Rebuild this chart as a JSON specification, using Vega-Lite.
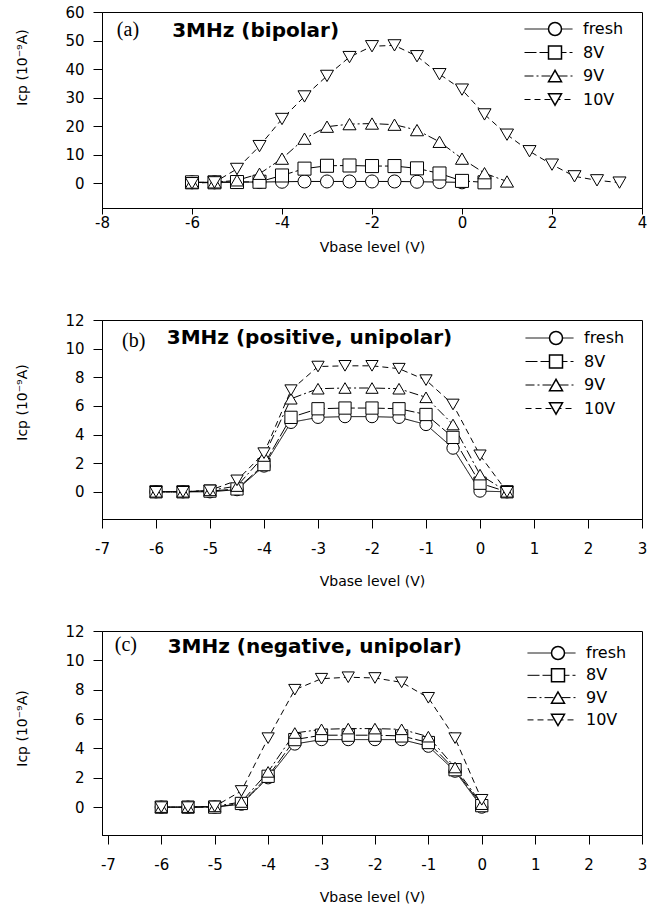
{
  "$schema": "https://vega.github.io/schema/vega-lite/v6.json",
  "padding": {"left": 14, "top": 4, "right": 2, "bottom": 2},
  "bounds": "flush",
  "spacing": 112,
  "resolve": {"scale": {"shape": "independent", "strokeDash": "independent"}, "legend": {"shape": "independent", "strokeDash": "independent"}},
  "datasets": {
    "pts": [
      {"panel": "a", "series": "fresh", "v": -6, "i": 0.3}, {"panel": "a", "series": "fresh", "v": -5.5, "i": 0.3}, {"panel": "a", "series": "fresh", "v": -5, "i": 0.4}, {"panel": "a", "series": "fresh", "v": -4.5, "i": 0.4}, {"panel": "a", "series": "fresh", "v": -4, "i": 0.5}, {"panel": "a", "series": "fresh", "v": -3.5, "i": 0.6}, {"panel": "a", "series": "fresh", "v": -3, "i": 0.6}, {"panel": "a", "series": "fresh", "v": -2.5, "i": 0.6}, {"panel": "a", "series": "fresh", "v": -2, "i": 0.6}, {"panel": "a", "series": "fresh", "v": -1.5, "i": 0.6}, {"panel": "a", "series": "fresh", "v": -1, "i": 0.5}, {"panel": "a", "series": "fresh", "v": -0.5, "i": 0.4}, {"panel": "a", "series": "fresh", "v": 0, "i": 0.3},
      {"panel": "a", "series": "8V", "v": -6, "i": 0.3}, {"panel": "a", "series": "8V", "v": -5.5, "i": 0.3}, {"panel": "a", "series": "8V", "v": -5, "i": 0.4}, {"panel": "a", "series": "8V", "v": -4.5, "i": 0.5}, {"panel": "a", "series": "8V", "v": -4, "i": 2.7}, {"panel": "a", "series": "8V", "v": -3.5, "i": 5.1}, {"panel": "a", "series": "8V", "v": -3, "i": 6.1}, {"panel": "a", "series": "8V", "v": -2.5, "i": 6.2}, {"panel": "a", "series": "8V", "v": -2, "i": 6.0}, {"panel": "a", "series": "8V", "v": -1.5, "i": 6.0}, {"panel": "a", "series": "8V", "v": -1, "i": 5.2}, {"panel": "a", "series": "8V", "v": -0.5, "i": 3.4}, {"panel": "a", "series": "8V", "v": 0, "i": 0.8}, {"panel": "a", "series": "8V", "v": 0.5, "i": 0.3},
      {"panel": "a", "series": "9V", "v": -6, "i": 0.2}, {"panel": "a", "series": "9V", "v": -5.5, "i": 0.3}, {"panel": "a", "series": "9V", "v": -5, "i": 1.0}, {"panel": "a", "series": "9V", "v": -4.5, "i": 3.3}, {"panel": "a", "series": "9V", "v": -4, "i": 8.6}, {"panel": "a", "series": "9V", "v": -3.5, "i": 15.6}, {"panel": "a", "series": "9V", "v": -3, "i": 19.8}, {"panel": "a", "series": "9V", "v": -2.5, "i": 20.7}, {"panel": "a", "series": "9V", "v": -2, "i": 20.9}, {"panel": "a", "series": "9V", "v": -1.5, "i": 20.5}, {"panel": "a", "series": "9V", "v": -1, "i": 18.6}, {"panel": "a", "series": "9V", "v": -0.5, "i": 14.5}, {"panel": "a", "series": "9V", "v": 0, "i": 8.6}, {"panel": "a", "series": "9V", "v": 0.5, "i": 3.5}, {"panel": "a", "series": "9V", "v": 1, "i": 0.6},
      {"panel": "a", "series": "10V", "v": -6, "i": 0.0}, {"panel": "a", "series": "10V", "v": -5.5, "i": 0.3}, {"panel": "a", "series": "10V", "v": -5, "i": 5.0}, {"panel": "a", "series": "10V", "v": -4.5, "i": 13.0}, {"panel": "a", "series": "10V", "v": -4, "i": 22.5}, {"panel": "a", "series": "10V", "v": -3.5, "i": 30.4}, {"panel": "a", "series": "10V", "v": -3, "i": 37.6}, {"panel": "a", "series": "10V", "v": -2.5, "i": 44.2}, {"panel": "a", "series": "10V", "v": -2, "i": 48.0}, {"panel": "a", "series": "10V", "v": -1.5, "i": 48.3}, {"panel": "a", "series": "10V", "v": -1, "i": 44.5}, {"panel": "a", "series": "10V", "v": -0.5, "i": 38.2}, {"panel": "a", "series": "10V", "v": 0, "i": 32.8}, {"panel": "a", "series": "10V", "v": 0.5, "i": 24.1}, {"panel": "a", "series": "10V", "v": 1, "i": 17.0}, {"panel": "a", "series": "10V", "v": 1.5, "i": 11.2}, {"panel": "a", "series": "10V", "v": 2, "i": 6.5}, {"panel": "a", "series": "10V", "v": 2.5, "i": 2.4}, {"panel": "a", "series": "10V", "v": 3, "i": 1.0}, {"panel": "a", "series": "10V", "v": 3.5, "i": 0.2},

      {"panel": "b", "series": "fresh", "v": -6, "i": 0}, {"panel": "b", "series": "fresh", "v": -5.5, "i": 0}, {"panel": "b", "series": "fresh", "v": -5, "i": 0}, {"panel": "b", "series": "fresh", "v": -4.5, "i": 0.15}, {"panel": "b", "series": "fresh", "v": -4, "i": 1.8}, {"panel": "b", "series": "fresh", "v": -3.5, "i": 4.85}, {"panel": "b", "series": "fresh", "v": -3, "i": 5.2}, {"panel": "b", "series": "fresh", "v": -2.5, "i": 5.25}, {"panel": "b", "series": "fresh", "v": -2, "i": 5.25}, {"panel": "b", "series": "fresh", "v": -1.5, "i": 5.2}, {"panel": "b", "series": "fresh", "v": -1, "i": 4.7}, {"panel": "b", "series": "fresh", "v": -0.5, "i": 3.05}, {"panel": "b", "series": "fresh", "v": 0, "i": 0.05}, {"panel": "b", "series": "fresh", "v": 0.5, "i": 0},
      {"panel": "b", "series": "8V", "v": -6, "i": 0}, {"panel": "b", "series": "8V", "v": -5.5, "i": 0}, {"panel": "b", "series": "8V", "v": -5, "i": 0.05}, {"panel": "b", "series": "8V", "v": -4.5, "i": 0.2}, {"panel": "b", "series": "8V", "v": -4, "i": 1.9}, {"panel": "b", "series": "8V", "v": -3.5, "i": 5.2}, {"panel": "b", "series": "8V", "v": -3, "i": 5.8}, {"panel": "b", "series": "8V", "v": -2.5, "i": 5.85}, {"panel": "b", "series": "8V", "v": -2, "i": 5.85}, {"panel": "b", "series": "8V", "v": -1.5, "i": 5.8}, {"panel": "b", "series": "8V", "v": -1, "i": 5.4}, {"panel": "b", "series": "8V", "v": -0.5, "i": 3.8}, {"panel": "b", "series": "8V", "v": 0, "i": 0.6}, {"panel": "b", "series": "8V", "v": 0.5, "i": 0},
      {"panel": "b", "series": "9V", "v": -6, "i": 0}, {"panel": "b", "series": "9V", "v": -5.5, "i": 0}, {"panel": "b", "series": "9V", "v": -5, "i": 0.1}, {"panel": "b", "series": "9V", "v": -4.5, "i": 0.4}, {"panel": "b", "series": "9V", "v": -4, "i": 2.5}, {"panel": "b", "series": "9V", "v": -3.5, "i": 6.5}, {"panel": "b", "series": "9V", "v": -3, "i": 7.2}, {"panel": "b", "series": "9V", "v": -2.5, "i": 7.25}, {"panel": "b", "series": "9V", "v": -2, "i": 7.25}, {"panel": "b", "series": "9V", "v": -1.5, "i": 7.2}, {"panel": "b", "series": "9V", "v": -1, "i": 6.6}, {"panel": "b", "series": "9V", "v": -0.5, "i": 4.7}, {"panel": "b", "series": "9V", "v": 0, "i": 1.2}, {"panel": "b", "series": "9V", "v": 0.5, "i": 0},
      {"panel": "b", "series": "10V", "v": -6, "i": 0}, {"panel": "b", "series": "10V", "v": -5.5, "i": 0}, {"panel": "b", "series": "10V", "v": -5, "i": 0.1}, {"panel": "b", "series": "10V", "v": -4.5, "i": 0.8}, {"panel": "b", "series": "10V", "v": -4, "i": 2.7}, {"panel": "b", "series": "10V", "v": -3.5, "i": 7.1}, {"panel": "b", "series": "10V", "v": -3, "i": 8.75}, {"panel": "b", "series": "10V", "v": -2.5, "i": 8.8}, {"panel": "b", "series": "10V", "v": -2, "i": 8.8}, {"panel": "b", "series": "10V", "v": -1.5, "i": 8.6}, {"panel": "b", "series": "10V", "v": -1, "i": 7.8}, {"panel": "b", "series": "10V", "v": -0.5, "i": 6.1}, {"panel": "b", "series": "10V", "v": 0, "i": 2.55}, {"panel": "b", "series": "10V", "v": 0.5, "i": 0},

      {"panel": "c", "series": "fresh", "v": -6, "i": 0}, {"panel": "c", "series": "fresh", "v": -5.5, "i": 0}, {"panel": "c", "series": "fresh", "v": -5, "i": 0}, {"panel": "c", "series": "fresh", "v": -4.5, "i": 0.2}, {"panel": "c", "series": "fresh", "v": -4, "i": 2.0}, {"panel": "c", "series": "fresh", "v": -3.5, "i": 4.3}, {"panel": "c", "series": "fresh", "v": -3, "i": 4.6}, {"panel": "c", "series": "fresh", "v": -2.5, "i": 4.6}, {"panel": "c", "series": "fresh", "v": -2, "i": 4.6}, {"panel": "c", "series": "fresh", "v": -1.5, "i": 4.6}, {"panel": "c", "series": "fresh", "v": -1, "i": 4.15}, {"panel": "c", "series": "fresh", "v": -0.5, "i": 2.45}, {"panel": "c", "series": "fresh", "v": 0, "i": 0},
      {"panel": "c", "series": "8V", "v": -6, "i": 0}, {"panel": "c", "series": "8V", "v": -5.5, "i": 0}, {"panel": "c", "series": "8V", "v": -5, "i": 0}, {"panel": "c", "series": "8V", "v": -4.5, "i": 0.25}, {"panel": "c", "series": "8V", "v": -4, "i": 2.1}, {"panel": "c", "series": "8V", "v": -3.5, "i": 4.6}, {"panel": "c", "series": "8V", "v": -3, "i": 4.9}, {"panel": "c", "series": "8V", "v": -2.5, "i": 4.9}, {"panel": "c", "series": "8V", "v": -2, "i": 4.9}, {"panel": "c", "series": "8V", "v": -1.5, "i": 4.85}, {"panel": "c", "series": "8V", "v": -1, "i": 4.4}, {"panel": "c", "series": "8V", "v": -0.5, "i": 2.55}, {"panel": "c", "series": "8V", "v": 0, "i": 0.1},
      {"panel": "c", "series": "9V", "v": -6, "i": 0}, {"panel": "c", "series": "9V", "v": -5.5, "i": 0}, {"panel": "c", "series": "9V", "v": -5, "i": 0.05}, {"panel": "c", "series": "9V", "v": -4.5, "i": 0.35}, {"panel": "c", "series": "9V", "v": -4, "i": 2.4}, {"panel": "c", "series": "9V", "v": -3.5, "i": 5.05}, {"panel": "c", "series": "9V", "v": -3, "i": 5.3}, {"panel": "c", "series": "9V", "v": -2.5, "i": 5.35}, {"panel": "c", "series": "9V", "v": -2, "i": 5.35}, {"panel": "c", "series": "9V", "v": -1.5, "i": 5.3}, {"panel": "c", "series": "9V", "v": -1, "i": 4.8}, {"panel": "c", "series": "9V", "v": -0.5, "i": 2.7}, {"panel": "c", "series": "9V", "v": 0, "i": 0.2},
      {"panel": "c", "series": "10V", "v": -6, "i": 0}, {"panel": "c", "series": "10V", "v": -5.5, "i": 0}, {"panel": "c", "series": "10V", "v": -5, "i": 0.05}, {"panel": "c", "series": "10V", "v": -4.5, "i": 1.1}, {"panel": "c", "series": "10V", "v": -4, "i": 4.7}, {"panel": "c", "series": "10V", "v": -3.5, "i": 8.0}, {"panel": "c", "series": "10V", "v": -3, "i": 8.75}, {"panel": "c", "series": "10V", "v": -2.5, "i": 8.85}, {"panel": "c", "series": "10V", "v": -2, "i": 8.8}, {"panel": "c", "series": "10V", "v": -1.5, "i": 8.5}, {"panel": "c", "series": "10V", "v": -1, "i": 7.45}, {"panel": "c", "series": "10V", "v": -0.5, "i": 4.7}, {"panel": "c", "series": "10V", "v": 0, "i": 0.5}
    ]
  },
  "vconcat": [
    {
      "width": 540,
      "height": 196,
      "layer": [
        {
          "data": {"name": "pts"},
          "transform": [{"filter": "datum.panel === 'a'"}],
          "mark": {"type": "line", "color": "black", "strokeWidth": 1},
          "encoding": {
            "x": {"field": "v", "type": "quantitative", "scale": {"domain": [-8, 4], "nice": false, "zero": false},
              "axis": {"values": [-8, -6, -4, -2, 0, 2, 4], "title": "Vbase level (V)", "labelExpr": "'' + datum.value", "tickSize": 6, "labelPadding": 1, "titlePadding": 10, "labelOverlap": false}},
            "y": {"field": "i", "type": "quantitative", "scale": {"domain": [-8.7, 60], "nice": false, "zero": false},
              "axis": {"values": [0, 10, 20, 30, 40, 50, 60], "title": "Icp (10⁻⁹A)", "titleX": -73, "titleY": 55, "labelOverlap": false}},
            "strokeDash": {"field": "series", "type": "nominal",
              "scale": {"domain": ["fresh", "8V", "9V", "10V"], "range": [[1, 0], [12, 3], [9, 3, 2, 3], [6, 4]]},
              "legend": {"orient": "none", "legendX": 422, "legendY": 9, "title": null, "padding": 0, "zindex": 1,
                "symbolType": "stroke", "symbolSize": 2304, "symbolStrokeColor": "black", "symbolStrokeWidth": 1,
                "labelFont": "DejaVu Sans", "labelFontSize": 16, "labelColor": "black", "labelOffset": 10,
                "clipHeight": 16, "rowPadding": 7.5}}
          }
        },
        {
          "data": {"name": "pts"},
          "transform": [{"filter": "datum.panel === 'a'"}],
          "mark": {"type": "point", "filled": true, "fill": "white", "stroke": "black", "strokeWidth": 1, "size": 170, "opacity": 1},
          "encoding": {
            "x": {"field": "v", "type": "quantitative", "scale": {"domain": [-8, 4], "nice": false, "zero": false},
              "axis": {"values": [-8, -6, -4, -2, 0, 2, 4], "title": "Vbase level (V)", "labelExpr": "'' + datum.value", "tickSize": 6, "labelPadding": 1, "titlePadding": 10, "labelOverlap": false}},
            "y": {"field": "i", "type": "quantitative", "scale": {"domain": [-8.7, 60], "nice": false, "zero": false},
              "axis": {"values": [0, 10, 20, 30, 40, 50, 60], "title": "Icp (10⁻⁹A)", "titleX": -73, "titleY": 55, "labelOverlap": false}},
            "shape": {"field": "series", "type": "nominal",
              "scale": {"range": ["triangle-down", "square", "triangle-up", "circle"]},
              "legend": {"orient": "none", "legendX": 445, "legendY": 9, "title": null, "padding": 0, "zindex": 2,
                "values": ["fresh", "8V", "9V", "10V"], "symbolSize": 169, "labelExpr": "''",
                "labelFontSize": 16, "clipHeight": 16, "rowPadding": 7.5}
            }
          }
        },
        {
          "data": {"values": [{}]},
          "mark": {"type": "text", "font": "Liberation Serif", "fontSize": 20, "align": "left", "baseline": "middle", "color": "black"},
          "encoding": {
            "x": {"datum": -7.67, "type": "quantitative", "axis": {"values": [-8, -6, -4, -2, 0, 2, 4], "title": "Vbase level (V)", "labelExpr": "'' + datum.value", "tickSize": 6, "labelPadding": 1, "titlePadding": 10, "labelOverlap": false}},
            "y": {"datum": 53.8, "type": "quantitative", "axis": {"values": [0, 10, 20, 30, 40, 50, 60], "title": "Icp (10⁻⁹A)", "titleX": -73, "titleY": 55, "labelOverlap": false}},
            "text": {"value": "(a)"}}
        },
        {
          "data": {"values": [{}]},
          "mark": {"type": "text", "font": "DejaVu Sans", "fontWeight": "bold", "fontSize": 20, "align": "left", "baseline": "middle", "color": "black"},
          "encoding": {
            "x": {"datum": -6.44, "type": "quantitative", "axis": {"values": [-8, -6, -4, -2, 0, 2, 4], "title": "Vbase level (V)", "labelExpr": "'' + datum.value", "tickSize": 6, "labelPadding": 1, "titlePadding": 10, "labelOverlap": false}},
            "y": {"datum": 53.4, "type": "quantitative", "axis": {"values": [0, 10, 20, 30, 40, 50, 60], "title": "Icp (10⁻⁹A)", "titleX": -73, "titleY": 55, "labelOverlap": false}},
            "text": {"value": "3MHz (bipolar)"}}
        }
      ]
    },
    {
      "width": 540,
      "height": 199,
      "layer": [
        {
          "data": {"name": "pts"},
          "transform": [{"filter": "datum.panel === 'b'"}],
          "mark": {"type": "line", "color": "black", "strokeWidth": 1},
          "encoding": {
            "x": {"field": "v", "type": "quantitative", "scale": {"domain": [-7, 3], "nice": false, "zero": false},
              "axis": {"values": [-7, -6, -5, -4, -3, -2, -1, 0, 1, 2, 3], "title": "Vbase level (V)", "labelExpr": "'' + datum.value", "tickSize": 9, "labelPadding": 13, "titlePadding": 18, "labelOverlap": false}},
            "y": {"field": "i", "type": "quantitative", "scale": {"domain": [-1.9, 12], "nice": false, "zero": false},
              "axis": {"values": [0, 2, 4, 6, 8, 10, 12], "title": "Icp (10⁻⁹A)", "titleX": -73, "titleY": 82, "labelOverlap": false}},
            "strokeDash": {"field": "series", "type": "nominal",
              "scale": {"domain": ["fresh", "8V", "9V", "10V"], "range": [[1, 0], [12, 3], [9, 3, 2, 3], [6, 4]]},
              "legend": {"orient": "none", "legendX": 423, "legendY": 10, "title": null, "padding": 0, "zindex": 1,
                "symbolType": "stroke", "symbolSize": 2304, "symbolStrokeColor": "black", "symbolStrokeWidth": 1,
                "labelFont": "DejaVu Sans", "labelFontSize": 16, "labelColor": "black", "labelOffset": 10,
                "clipHeight": 16, "rowPadding": 7.5}}
          }
        },
        {
          "data": {"name": "pts"},
          "transform": [{"filter": "datum.panel === 'b'"}],
          "mark": {"type": "point", "filled": true, "fill": "white", "stroke": "black", "strokeWidth": 1, "size": 150, "opacity": 1},
          "encoding": {
            "x": {"field": "v", "type": "quantitative", "scale": {"domain": [-7, 3], "nice": false, "zero": false},
              "axis": {"values": [-7, -6, -5, -4, -3, -2, -1, 0, 1, 2, 3], "title": "Vbase level (V)", "labelExpr": "'' + datum.value", "tickSize": 9, "labelPadding": 13, "titlePadding": 18, "labelOverlap": false}},
            "y": {"field": "i", "type": "quantitative", "scale": {"domain": [-1.9, 12], "nice": false, "zero": false},
              "axis": {"values": [0, 2, 4, 6, 8, 10, 12], "title": "Icp (10⁻⁹A)", "titleX": -73, "titleY": 82, "labelOverlap": false}},
            "shape": {"field": "series", "type": "nominal",
              "scale": {"range": ["triangle-down", "square", "triangle-up", "circle"]},
              "legend": {"orient": "none", "legendX": 446, "legendY": 10, "title": null, "padding": 0, "zindex": 2,
                "values": ["fresh", "8V", "9V", "10V"], "symbolSize": 169, "labelExpr": "''",
                "labelFontSize": 16, "clipHeight": 16, "rowPadding": 7.5}
            }
          }
        },
        {
          "data": {"values": [{}]},
          "mark": {"type": "text", "font": "Liberation Serif", "fontSize": 20, "align": "left", "baseline": "middle", "color": "black"},
          "encoding": {
            "x": {"datum": -6.63, "type": "quantitative", "axis": {"values": [-7, -6, -5, -4, -3, -2, -1, 0, 1, 2, 3], "title": "Vbase level (V)", "labelExpr": "'' + datum.value", "tickSize": 9, "labelPadding": 13, "titlePadding": 18, "labelOverlap": false}},
            "y": {"datum": 10.55, "type": "quantitative", "axis": {"values": [0, 2, 4, 6, 8, 10, 12], "title": "Icp (10⁻⁹A)", "titleX": -73, "titleY": 82, "labelOverlap": false}},
            "text": {"value": "(b)"}}
        },
        {
          "data": {"values": [{}]},
          "mark": {"type": "text", "font": "DejaVu Sans", "fontWeight": "bold", "fontSize": 20, "align": "left", "baseline": "middle", "color": "black"},
          "encoding": {
            "x": {"datum": -5.8, "type": "quantitative", "axis": {"values": [-7, -6, -5, -4, -3, -2, -1, 0, 1, 2, 3], "title": "Vbase level (V)", "labelExpr": "'' + datum.value", "tickSize": 9, "labelPadding": 13, "titlePadding": 18, "labelOverlap": false}},
            "y": {"datum": 10.75, "type": "quantitative", "axis": {"values": [0, 2, 4, 6, 8, 10, 12], "title": "Icp (10⁻⁹A)", "titleX": -73, "titleY": 82, "labelOverlap": false}},
            "text": {"value": "3MHz (positive, unipolar)"}}
        }
      ]
    },
    {
      "width": 540,
      "height": 204,
      "layer": [
        {
          "data": {"name": "pts"},
          "transform": [{"filter": "datum.panel === 'c'"}],
          "mark": {"type": "line", "color": "black", "strokeWidth": 1},
          "encoding": {
            "x": {"field": "v", "type": "quantitative", "scale": {"domain": [-7.11, 3], "nice": false, "zero": false},
              "axis": {"values": [-7, -6, -5, -4, -3, -2, -1, 0, 1, 2, 3], "title": "Vbase level (V)", "labelExpr": "'' + datum.value", "tickSize": 9, "labelPadding": 13, "titlePadding": 18, "labelOverlap": false}},
            "y": {"field": "i", "type": "quantitative", "scale": {"domain": [-1.9, 12], "nice": false, "zero": false},
              "axis": {"values": [0, 2, 4, 6, 8, 10, 12], "title": "Icp (10⁻⁹A)", "titleX": -73, "titleY": 97, "labelOverlap": false}},
            "strokeDash": {"field": "series", "type": "nominal",
              "scale": {"domain": ["fresh", "8V", "9V", "10V"], "range": [[1, 0], [12, 3], [9, 3, 2, 3], [6, 4]]},
              "legend": {"orient": "none", "legendX": 425, "legendY": 14, "title": null, "padding": 0, "zindex": 1,
                "symbolType": "stroke", "symbolSize": 2304, "symbolStrokeColor": "black", "symbolStrokeWidth": 1,
                "labelFont": "DejaVu Sans", "labelFontSize": 16, "labelColor": "black", "labelOffset": 10,
                "clipHeight": 16, "rowPadding": 6.3}}
          }
        },
        {
          "data": {"name": "pts"},
          "transform": [{"filter": "datum.panel === 'c'"}],
          "mark": {"type": "point", "filled": true, "fill": "white", "stroke": "black", "strokeWidth": 1, "size": 150, "opacity": 1},
          "encoding": {
            "x": {"field": "v", "type": "quantitative", "scale": {"domain": [-7.11, 3], "nice": false, "zero": false},
              "axis": {"values": [-7, -6, -5, -4, -3, -2, -1, 0, 1, 2, 3], "title": "Vbase level (V)", "labelExpr": "'' + datum.value", "tickSize": 9, "labelPadding": 13, "titlePadding": 18, "labelOverlap": false}},
            "y": {"field": "i", "type": "quantitative", "scale": {"domain": [-1.9, 12], "nice": false, "zero": false},
              "axis": {"values": [0, 2, 4, 6, 8, 10, 12], "title": "Icp (10⁻⁹A)", "titleX": -73, "titleY": 97, "labelOverlap": false}},
            "shape": {"field": "series", "type": "nominal",
              "scale": {"range": ["triangle-down", "square", "triangle-up", "circle"]},
              "legend": {"orient": "none", "legendX": 448, "legendY": 14, "title": null, "padding": 0, "zindex": 2,
                "values": ["fresh", "8V", "9V", "10V"], "symbolSize": 169, "labelExpr": "''",
                "labelFontSize": 16, "clipHeight": 16, "rowPadding": 6.3}
            }
          }
        },
        {
          "data": {"values": [{}]},
          "mark": {"type": "text", "font": "Liberation Serif", "fontSize": 20, "align": "left", "baseline": "middle", "color": "black"},
          "encoding": {
            "x": {"datum": -6.87, "type": "quantitative", "axis": {"values": [-7, -6, -5, -4, -3, -2, -1, 0, 1, 2, 3], "title": "Vbase level (V)", "labelExpr": "'' + datum.value", "tickSize": 9, "labelPadding": 13, "titlePadding": 18, "labelOverlap": false}},
            "y": {"datum": 11.05, "type": "quantitative", "axis": {"values": [0, 2, 4, 6, 8, 10, 12], "title": "Icp (10⁻⁹A)", "titleX": -73, "titleY": 97, "labelOverlap": false}},
            "text": {"value": "(c)"}}
        },
        {
          "data": {"values": [{}]},
          "mark": {"type": "text", "font": "DejaVu Sans", "fontWeight": "bold", "fontSize": 20, "align": "left", "baseline": "middle", "color": "black"},
          "encoding": {
            "x": {"datum": -5.88, "type": "quantitative", "axis": {"values": [-7, -6, -5, -4, -3, -2, -1, 0, 1, 2, 3], "title": "Vbase level (V)", "labelExpr": "'' + datum.value", "tickSize": 9, "labelPadding": 13, "titlePadding": 18, "labelOverlap": false}},
            "y": {"datum": 10.9, "type": "quantitative", "axis": {"values": [0, 2, 4, 6, 8, 10, 12], "title": "Icp (10⁻⁹A)", "titleX": -73, "titleY": 97, "labelOverlap": false}},
            "text": {"value": "3MHz (negative, unipolar)"}}
        }
      ]
    }
  ],
  "config": {
    "font": "DejaVu Sans",
    "background": "white",
    "view": {"stroke": "black", "strokeWidth": 1},
    "axis": {
      "grid": false, "domainColor": "black", "tickColor": "black", "labelColor": "black", "titleColor": "black",
      "labelFont": "DejaVu Sans", "labelFontSize": 15, "titleFont": "DejaVu Sans", "titleFontSize": 14, "titleFontWeight": "normal",
      "tickSize": 9, "labelPadding": 9, "domainWidth": 1, "tickWidth": 1, "labelFlush": false, "labelOverlap": false
    }
  }
}
